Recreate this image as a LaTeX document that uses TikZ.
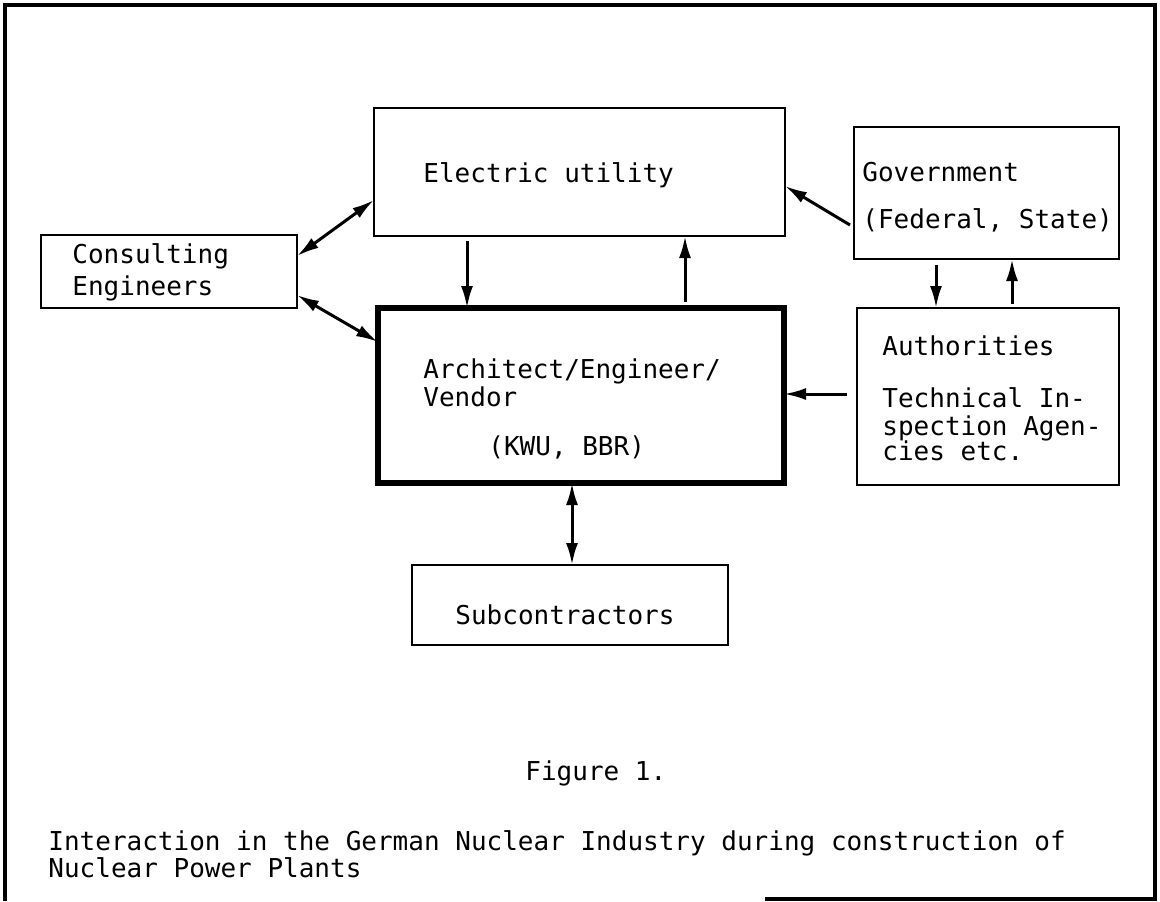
\documentclass[tikz,border=0pt]{standalone}
\usepackage{fontspec}
\newfontfamily\tw{DejaVu Sans Mono}
\usetikzlibrary{arrows.meta,fit}
\begin{document}
\begin{tikzpicture}[x=0.5pt,y=-0.5pt,
  box/.style={draw,line width=1.3pt,inner sep=0pt,outer sep=0pt},
  thickbox/.style={draw,line width=2.6pt,inner sep=0pt,outer sep=0pt},
  txt/.style={anchor=base west,inner sep=0pt,font=\tw\fontsize{13}{16}\selectfont},
  tip/.tip={Latex[length=11pt,width=6pt]},
  arr/.style={line width=1.5pt,-tip},
  darr/.style={line width=1.5pt,tip-tip}]
\useasboundingbox (0,0) rectangle (1160,901);
% outer frame
\draw[line width=2pt] (5,901) -- (5,5) -- (1155,5) -- (1155,899) -- (765,899);
% boxes
\node[box,fit={(374,108) (785,236)}] (util) {};
\node[box,fit={(854,127) (1119,259)}] (gov) {};
\node[box,fit={(41,235) (297,308)}] (cons) {};
\node[thickbox,fit={(378,308) (784,483)}] (arch) {};
\node[box,fit={(857,308) (1119,485)}] (auth) {};
\node[box,fit={(412,565) (728,645)}] (sub) {};
% texts
\node[txt] (tutil) at (423,182) {Electric utility};
\node[txt] (tgov1) at (862,181) {Government};
\node[txt] (tgov2) at (862,228) {(Federal, State)};
\node[txt] (tcons1) at (72,263) {Consulting};
\node[txt] (tcons2) at (72,295) {Engineers};
\node[txt] (tarch1) at (423,378) {Architect/Engineer/};
\node[txt] (tarch2) at (423,406) {Vendor};
\node[txt] (tarch3) at (488,455) {(KWU, BBR)};
\node[txt] (tauth1) at (882,355) {Authorities};
\node[txt] (tauth2) at (882,407) {Technical In-};
\node[txt] (tauth3) at (882,435) {spection Agen-};
\node[txt] (tauth4) at (882,460) {cies etc.};
\node[txt] (tsub) at (455,624) {Subcontractors};
\node[txt] (tfig) at (525,780) {Figure 1.};
\node[txt] (tcap1) at (48,850) {Interaction in the German Nuclear Industry during construction of};
\node[txt] (tcap2) at (48,877) {Nuclear Power Plants};
% helper coordinates
\coordinate (c1) at (0,256);
\coordinate (c2) at (0,200);
\coordinate (c3) at (0,295);
\coordinate (c4) at (0,342);
\coordinate (c6) at (0,186);
\coordinate (c7) at (0,394);
\coordinate (x467) at (467,0);
\coordinate (x685) at (685,0);
\coordinate (x936) at (936,0);
\coordinate (x1012) at (1012,0);
\coordinate (x572) at (572,0);
\coordinate (p1) at (850,225);
\coordinate (p2) at (847,394);
\coordinate (p3) at (467,241);
\coordinate (p4) at (685,302);
\coordinate (p5) at (936,265);
\coordinate (p6) at (1012,304);
% connectors
\draw[darr] (cons.east |- c1) -- (util.west |- c2);
\draw[darr] (cons.east |- c3) -- (arch.west |- c4);
\draw[arr] (p1) -- (util.east |- c6);
\draw[arr] (p2) -- (arch.east |- c7);
\draw[arr] (p3) -- (arch.north -| x467);
\draw[arr] (p4) -- (util.south -| x685);
\draw[arr] (p5) -- (auth.north -| x936);
\draw[arr] (p6) -- (gov.south -| x1012);
\draw[darr] (arch.south -| x572) -- (sub.north -| x572);
\end{tikzpicture}
\end{document}
